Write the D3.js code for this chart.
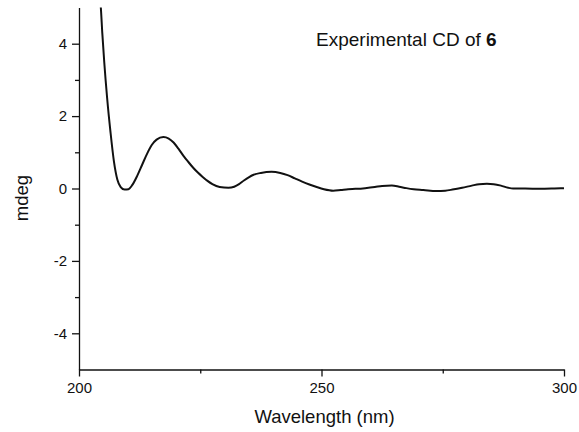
<!DOCTYPE html>
<html>
<head>
<meta charset="utf-8">
<script src="https://cdn.jsdelivr.net/npm/d3@7"></script>
<style>
  body { margin: 0; background: #fff; }
  svg { display: block; }
  .axis path, .axis line { stroke: #111; stroke-width: 1.3; }
  .axis text { font-family: "Liberation Sans", Arial, sans-serif; font-size: 15px; fill: #111; }
</style>
</head>
<body>
<div id="chart"></div>
<script>
// Data (wavelength nm, signal mdeg)
var wavelength = [204.0, 204.5, 204.8, 205.2, 205.8, 206.5, 207.2, 207.9, 208.6, 209.4, 210.2, 211, 212, 213, 214, 215, 216, 217.4, 218.5, 219.5, 220.5, 221.5, 222.5, 223.5, 224.5, 225.5, 226.5, 227.5, 229, 230.8, 232, 233, 234, 235, 236, 237.5, 239.7, 241.5, 243, 244.5, 246, 247.5, 249, 250.5, 252.4, 254, 255.5, 257, 259, 261, 262.5, 264.5, 266, 267.5, 269, 271, 273.7, 275.5, 277, 279, 281, 282.5, 284.1, 285.5, 287, 288.5, 289.5, 292, 295, 298, 300];
var mdeg = [5.6, 5.0, 4.3, 3.5, 2.5, 1.55, 0.75, 0.25, 0.04, -0.03, -0.02, 0.1, 0.35, 0.65, 0.95, 1.2, 1.35, 1.42, 1.38, 1.27, 1.1, 0.91, 0.74, 0.58, 0.44, 0.32, 0.21, 0.12, 0.04, 0.02, 0.05, 0.12, 0.22, 0.31, 0.38, 0.43, 0.46, 0.43, 0.37, 0.28, 0.19, 0.11, 0.04, -0.02, -0.06, -0.04, -0.02, -0.01, 0.01, 0.04, 0.07, 0.08, 0.05, 0.01, -0.02, -0.04, -0.07, -0.06, -0.03, 0.02, 0.08, 0.12, 0.13, 0.12, 0.08, 0.02, 0.0, 0.0, -0.01, 0.0, 0.01];

var xMajor = [200, 250, 300],
    xMinor = [225, 275],
    yMajor = [-4, -2, 0, 2, 4],
    yMinor = [-3, -1, 1, 3];

var W = 579, H = 432,
    font_family = "'Liberation Sans', Arial, sans-serif";

// Size
var margin = {top: 7.5, right: 15, bottom: 62.5, left: 79},
    width = 485,
    height = 362;

var xScale = d3.scaleLinear().domain([200, 300]).range([0, width]),
    yScale = d3.scaleLinear().domain([-5, 5]).range([height, 0]);

var svg = d3.select("#chart").append("svg")
    .attr("width", W)
    .attr("height", H)
  .append("g")
    .attr("transform", "translate(" + margin.left + "," + margin.top + ")");

svg.append("clipPath")
    .attr("id", "clip")
  .append("rect")
    .attr("x", 0).attr("y", 0)
    .attr("width", width).attr("height", height);

// plain hyphen for negatives, like the original plot
var fmt = function(d) { return String(d); };

// Axes: major ticks with labels, minor ticks without
svg.append("g")
    .attr("class", "axis")
    .attr("transform", "translate(0," + height + ")")
    .call(d3.axisBottom(xScale).tickValues(xMajor).tickSize(7).tickSizeOuter(0).tickPadding(6).tickFormat(fmt));

svg.append("g")
    .attr("class", "axis")
    .attr("transform", "translate(0," + height + ")")
    .call(d3.axisBottom(xScale).tickValues(xMinor).tickSize(4).tickFormat(""))
    .select(".domain").remove();

svg.append("g")
    .attr("class", "axis")
    .call(d3.axisLeft(yScale).tickValues(yMajor).tickSize(7).tickSizeOuter(0).tickPadding(5).tickFormat(fmt));

svg.append("g")
    .attr("class", "axis")
    .call(d3.axisLeft(yScale).tickValues(yMinor).tickSize(4).tickFormat(""))
    .select(".domain").remove();

// Curve
var points = wavelength.map(function(d, i) { return [d, mdeg[i]]; });

var line = d3.line()
    .x(function(d) { return xScale(d[0]); })
    .y(function(d) { return yScale(d[1]); })
    .curve(d3.curveMonotoneX);

svg.append("path")
    .datum(points)
    .attr("clip-path", "url(#clip)")
    .attr("fill", "none")
    .attr("stroke", "#111")
    .attr("stroke-width", 2)
    .attr("stroke-linejoin", "round")
    .attr("d", line);

// Labels
svg.append("text")
    .attr("x", width / 2 + 3)
    .attr("y", height + 53)
    .attr("font-family", font_family)
    .attr("font-size", "18.5px")
    .attr("fill", "#111")
    .style("text-anchor", "middle")
    .text("Wavelength (nm)");

svg.append("text")
    .attr("transform", "translate(" + (28 - margin.left) + "," + (198 - margin.top) + ") rotate(-90)")
    .attr("font-family", font_family)
    .attr("font-size", "18.5px")
    .attr("fill", "#111")
    .style("text-anchor", "middle")
    .text("mdeg");

var title = svg.append("text")
    .attr("x", 316 - margin.left)
    .attr("y", 46 - margin.top)
    .attr("font-family", font_family)
    .attr("font-size", "19px")
    .attr("fill", "#111");
title.append("tspan").text("Experimental CD of ");
title.append("tspan").attr("font-weight", "bold").text("6");
</script>
</body>
</html>
